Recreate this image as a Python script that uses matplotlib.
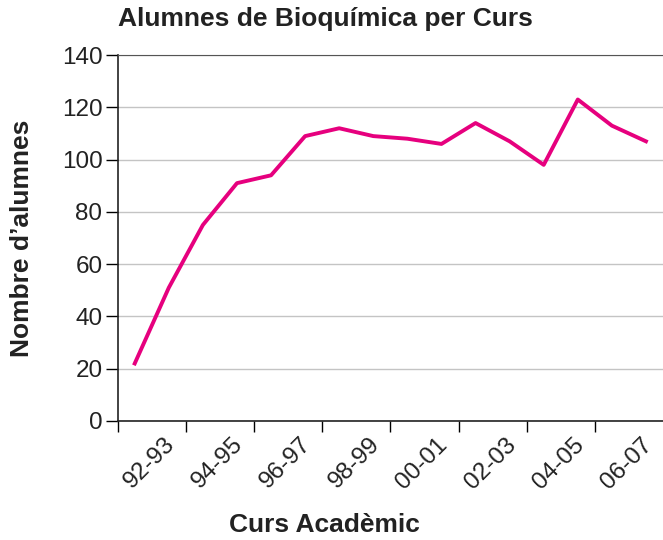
import matplotlib.pyplot as plt
import matplotlib.transforms as mtransforms
import numpy as np

plt.rcParams['font.family'] = ['Liberation Sans', 'DejaVu Sans']

cursos = ['91-92', '92-93', '93-94', '94-95', '95-96', '96-97', '97-98', '98-99',
          '99-00', '00-01', '01-02', '02-03', '03-04', '04-05', '05-06', '06-07']
alumnes = [22, 51, 75, 91, 94, 109, 112, 109, 108, 106, 114, 107, 98, 123, 113, 107]

fig = plt.figure(figsize=(6.63, 5.40), dpi=100)
ax = fig.add_axes([0.1775, 0.2204, 0.8225, 0.6776])

x = np.arange(len(cursos))
ax.plot(x, alumnes, color='#e6007e', lw=2.8, zorder=3)

ax.set_xlim(-0.5, len(cursos) - 0.5)
ax.set_ylim(0, 140)
ax.set_yticks(range(0, 141, 20))
ax.yaxis.grid(True, color='#c4c4c4', lw=1)
ax.set_axisbelow(True)

# tick marks between pairs of courses, labels on every other course
ax.set_xticks(np.arange(-0.5, len(cursos) - 1, 2))
ax.set_xticklabels([])
ax.set_xticks(x[1::2], minor=True)
ax.set_xticklabels(cursos[1::2], minor=True, rotation=45, ha='right',
                   rotation_mode='anchor', va='top')
ax.tick_params(axis='x', which='major', direction='out', length=8, width=1)
ax.tick_params(axis='x', which='minor', length=0, pad=9, labelsize=17.5,
               labelcolor='#222222')
ax.tick_params(axis='y', length=9, width=1, labelsize=17.5, pad=2,
               labelcolor='#222222')
shift = mtransforms.ScaledTranslation(-5 / 100, 0, fig.dpi_scale_trans)
for lab in ax.get_xticklabels(minor=True):
    lab.set_transform(lab.get_transform() + shift)

ax.spines['right'].set_visible(False)
ax.spines['top'].set_color('#555555')
for s in ['left', 'bottom']:
    ax.spines[s].set_color('#222222')
    ax.spines[s].set_linewidth(1.2)

fig.text(0.1775, 0.965, 'Alumnes de Bioquímica per Curs', fontsize=19,
         fontweight='bold', ha='left', va='center', color='#222222')
ax.set_ylabel("Nombre d\u2019alumnes", fontsize=19, fontweight='bold',
              labelpad=20, color='#222222')
fig.text(0.49, 0.028, 'Curs Acadèmic', fontsize=19, fontweight='bold',
         ha='center', va='center', color='#222222')

fig.savefig('out.png', dpi=100)
